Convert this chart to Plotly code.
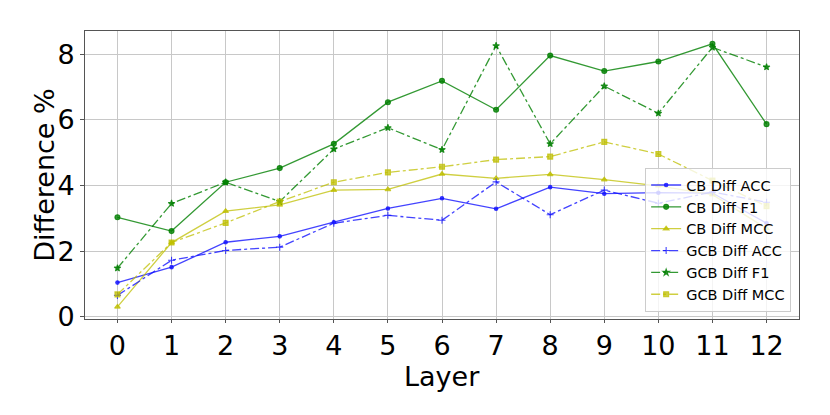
import plotly.graph_objects as go

layers = list(range(13))
tick_labels = [str(i) for i in layers]

cb_acc = [1.04, 1.51, 2.27, 2.45, 2.88, 3.30, 3.61, 3.29, 3.95, 3.75, 3.78, 3.77, 2.85]
cb_f1 = [3.03, 2.61, 4.10, 4.53, 5.27, 6.54, 7.19, 6.31, 7.96, 7.49, 7.78, 8.32, 5.87]
cb_mcc = [0.30, 2.26, 3.22, 3.41, 3.86, 3.88, 4.35, 4.22, 4.34, 4.18, 3.99, 3.72, 2.69]
gcb_acc = [0.65, 1.72, 2.02, 2.12, 2.85, 3.09, 2.94, 4.11, 3.11, 3.86, 3.46, 3.80, 3.49]
gcb_f1 = [1.48, 3.45, 4.10, 3.51, 5.11, 5.76, 5.09, 8.26, 5.27, 7.03, 6.20, 8.21, 7.61]
gcb_mcc = [0.68, 2.26, 2.86, 3.51, 4.10, 4.40, 4.57, 4.79, 4.88, 5.33, 4.96, 4.15, 3.37]

BLUE = "rgba(20,20,255,0.8)"
GREEN = "rgba(0,128,0,0.8)"
YELLOW = "rgba(191,191,0,0.75)"

series = [
    ("CB Diff ACC", cb_acc, BLUE, "solid", "circle", 3.5),
    ("CB Diff F1", cb_f1, GREEN, "solid", "circle", 5),
    ("CB Diff MCC", cb_mcc, YELLOW, "solid", "triangle-up", 5),
    ("GCB Diff ACC", gcb_acc, BLUE, "dashdot", "cross-thin-open", 5),
    ("GCB Diff F1", gcb_f1, GREEN, "dashdot", "star", 5),
    ("GCB Diff MCC", gcb_mcc, YELLOW, "dashdot", "square", 5),
]

fig = go.Figure()
for name, vals, color, dash, sym, size in series:
    fig.add_trace(go.Scatter(
        x=layers, y=vals, name=name, mode="lines+markers",
        line=dict(color=color, width=1.3, dash=dash),
        marker=dict(symbol=sym, size=size, color=color,
                    line=dict(color=color, width=1.1)),
    ))

axis_common = dict(
    showgrid=True, gridcolor="#c8c8c8", gridwidth=1,
    showline=True, linecolor="#555555", linewidth=1, mirror=True,
    ticks="outside", tickcolor="#555555",
    zeroline=False, automargin=False,
    tickfont=dict(family="DejaVu Sans", size=27, color="black"),
)

fig.update_layout(
    width=814, height=399,
    paper_bgcolor="white", plot_bgcolor="white",
    margin=dict(l=77, r=23, t=23, b=88),
    font=dict(family="DejaVu Sans", color="black"),
    xaxis=dict(range=[-0.6, 12.6], tickvals=layers, ticktext=tick_labels,
               ticklen=3, **axis_common),
    yaxis=dict(range=[-0.07, 8.71], tickvals=[0, 2, 4, 6, 8],
               ticklen=4, **axis_common),
    legend=dict(x=0.989, y=0.024, xanchor="right", yanchor="bottom",
                bgcolor="rgba(255,255,255,0.8)", bordercolor="#cccccc", borderwidth=1,
                font=dict(family="DejaVu Sans", size=14.5, color="black"),
                tracegroupgap=0, itemwidth=30),
    showlegend=True,
    annotations=[
        dict(text="Layer", xref="paper", yref="paper", x=0.5, y=-0.2,
             xanchor="center", yanchor="middle", showarrow=False,
             font=dict(family="DejaVu Sans", size=27, color="black")),
        dict(text="Difference %", xref="paper", yref="paper", x=-0.0578, y=0.5,
             xanchor="center", yanchor="middle", showarrow=False, textangle=-90,
             font=dict(family="DejaVu Sans", size=27, color="black")),
    ],
)

fig.write_html("out.html")
